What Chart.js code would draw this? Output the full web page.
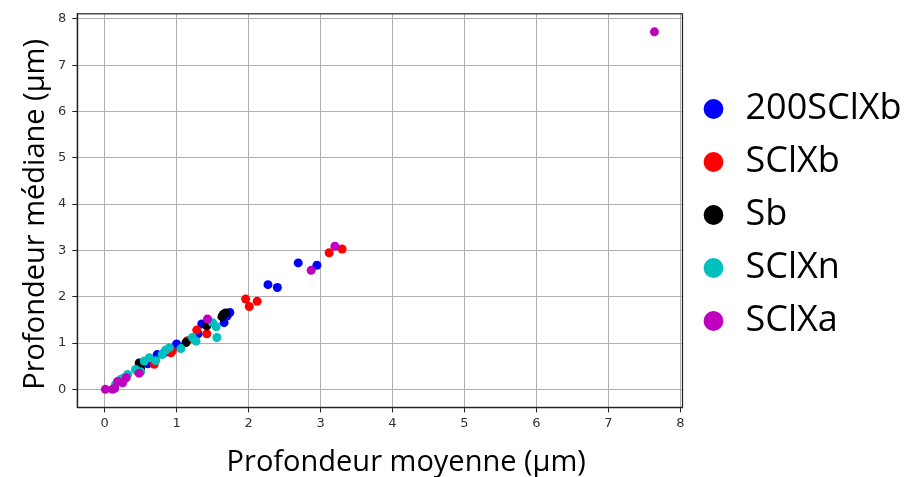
<!DOCTYPE html>
<html>
<head>
<meta charset="utf-8">
<script src="https://cdn.jsdelivr.net/npm/chart.js@4.4.0/dist/chart.umd.min.js"></script>
<style>
  html, body { margin: 0; padding: 0; background: #fff; }
  #wrap { width: 909px; height: 477px; }
</style>
</head>
<body>
<div id="wrap"><canvas id="scatter"></canvas></div>
<script>
// data: [moyenne, mediane]
const s200SClXb = [[0.73,0.75],[0.83,0.79],[1.00,0.98],[1.05,0.90],[1.30,1.20],[1.35,1.41],
  [1.66,1.44],[1.74,1.66],[1.70,1.58],[2.27,2.26],[2.40,2.20],[2.69,2.73],[2.95,2.68],[0.60,0.55]];
const sSClXb = [[0.69,0.54],[0.92,0.79],[0.94,0.83],[1.28,1.28],[1.42,1.20],[1.96,1.95],
  [2.01,1.79],[2.12,1.90],[3.12,2.95],[3.30,3.03],[0.45,0.40],[1.15,1.05]];
const sSb = [[0.48,0.57],[1.13,1.01],[1.42,1.37],[1.63,1.57],[1.65,1.62],[1.68,1.65],[0.50,0.45]];
const sSClXn = [[0.15,0.10],[0.22,0.21],[0.32,0.32],[0.43,0.43],[0.55,0.61],[0.62,0.68],
  [0.71,0.62],[0.80,0.75],[0.90,0.90],[1.06,0.88],[1.22,1.12],[1.27,1.04],[1.50,1.44],
  [1.55,1.35],[1.56,1.12],[0.27,0.25],[0.50,0.38],[0.85,0.85]];
const sSClXa = [[0.01,0.00],[0.11,0.00],[0.18,0.17],[0.25,0.14],[0.48,0.35],[0.30,0.25],
  [1.43,1.52],[2.87,2.57],[3.20,3.09],[7.64,7.72],[0.14,0.02]];
const seriesNames = ["200SClXb", "SClXb", "Sb", "SClXn", "SClXa"];
const seriesColors = ["#0000ff", "#ff0000", "#000000", "#00bfbf", "#bf00bf"];
const seriesData = [s200SClXb, sSClXb, sSb, sSClXn, sSClXa];
// leading/trailing spaces nudge the titles off-centre like in the original
const xTitle = "\u00a0".repeat(7) + "Profondeur moyenne (µm)";
const yTitle = "Profondeur médiane (µm)\u00a0";

const frame = {
  id: 'frame',
  afterDraw(chart) {
    const a = chart.chartArea, ctx = chart.ctx;
    ctx.save();
    ctx.strokeStyle = '#222';
    ctx.lineWidth = 1.2;
    ctx.strokeRect(a.left, a.top, a.right - a.left, a.bottom - a.top);
    ctx.restore();
  }
};

new Chart(document.getElementById("scatter"), {
  type: 'scatter',
  data: {
    datasets: seriesData.map((d, i) => ({
      label: seriesNames[i],
      data: d.map(p => ({ x: p[0], y: p[1] })),
      backgroundColor: seriesColors[i],
      borderColor: seriesColors[i],
      borderWidth: 0,
      pointRadius: 4.5,
      order: 5 - i
    }))
  },
  options: {
    responsive: true,
    maintainAspectRatio: false,
    animation: false,
    layout: { padding: { left: 21, right: 6, top: 12, bottom: 0 } },
    plugins: {
      tooltip: { enabled: false },
      legend: {
        position: 'right',
        align: 'start',
        title: { display: true, text: ' ', padding: 13, font: { size: 30 } },
        labels: {
          usePointStyle: true,
          pointStyle: 'circle',
          boxWidth: 28,
          boxHeight: 14,
          padding: 17,
          color: '#000',
          font: { family: "'Open Sans', sans-serif", size: 36 },
          sort: (a, b) => a.datasetIndex - b.datasetIndex
        }
      }
    },
    scales: {
      x: {
        type: 'linear',
        min: -0.38, max: 8.03,
        border: { color: '#222', width: 1.2 },
        grid: { color: '#b0b0b0', lineWidth: 1, tickColor: '#222', tickLength: 5 },
        ticks: { stepSize: 1, includeBounds: false, color: '#333', padding: 3,
                 font: { family: "'DejaVu Sans', sans-serif", size: 13 } },
        title: { display: true, text: xTitle, color: '#000', padding: { top: 14, bottom: 0 },
                 font: { family: "'Open Sans', sans-serif", size: 29, lineHeight: 1 } }
      },
      y: {
        type: 'linear',
        min: -0.39, max: 8.11,
        border: { color: '#222', width: 1.2 },
        grid: { color: '#b0b0b0', lineWidth: 1, tickColor: '#222', tickLength: 5 },
        ticks: { stepSize: 1, includeBounds: false, color: '#333', padding: 6,
                 font: { family: "'DejaVu Sans', sans-serif", size: 13 } },
        title: { display: true, text: yTitle, color: '#000', padding: { top: 0, bottom: 2 },
                 font: { family: "'Open Sans', sans-serif", size: 29, lineHeight: 1 } }
      }
    }
  },
  plugins: [frame]
});
</script>
</body>
</html>
